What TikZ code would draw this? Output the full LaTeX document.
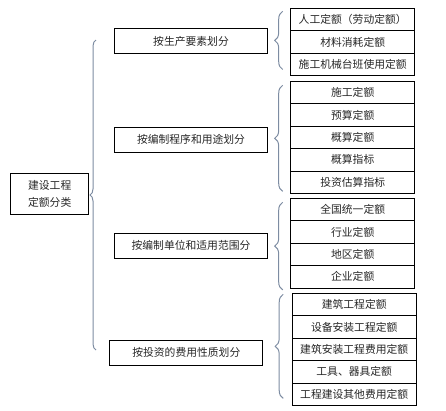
\documentclass[tikz,border=0pt]{standalone}
\usepackage{fontspec}
\newfontfamily\cjk{Noto Sans CJK SC}
\usepackage{tikz}
\usetikzlibrary{positioning,decorations.pathreplacing}

\definecolor{bracegray}{RGB}{125,140,162}

\tikzset{
    rootbox/.style={draw, line width=0.8pt, minimum width=78pt, minimum height=41pt,
        inner sep=0pt, outer sep=0pt, align=center, text=black!85,
        font=\cjk\fontsize{10.8}{16.5}\selectfont},
    catbox/.style={draw, line width=0.8pt, minimum width=153pt, minimum height=25pt,
        inner sep=0pt, outer sep=0pt, text=black!85, font=\cjk\fontsize{10.8}{13}\selectfont},
    itembox/.style={draw, line width=0.8pt, minimum width=124pt, minimum height=22.4pt,
        inner sep=0pt, outer sep=0pt, text=black!85, font=\cjk\fontsize{10.8}{13}\selectfont},
    bracket/.style={draw=bracegray, line width=1pt, decorate,
        decoration={brace, amplitude=#1}},
    bracket/.default=8pt
}

\begin{document}
\begin{tikzpicture}[x=1pt, y=-1pt]
    \useasboundingbox (0,0) rectangle (446,410);

    \node[rootbox] (root) at (49.7,193.8) {建设工程\\定额分类};

    \node[catbox] (c1) at (191,41.3) {按生产要素划分};
    \node[catbox] (c2) at (191,139.7) {按编制程序和用途划分};
    \node[catbox] (c3) at (191,245.8) {按编制单位和适用范围分};
    \node[catbox] (c4) at (186.3,352.8) {按投资的费用性质划分};

    \node[itembox] (a1) at (352.7,19.5) {人工定额（劳动定额）};
    \node[itembox, below=0pt of a1] (a2) {材料消耗定额};
    \node[itembox, below=0pt of a2] (a3) {施工机械台班使用定额};

    \node[itembox, below=5.8pt of a3] (b1) {施工定额};
    \node[itembox, below=0pt of b1] (b2) {预算定额};
    \node[itembox, below=0pt of b2] (b3) {概算定额};
    \node[itembox, below=0pt of b3] (b4) {概算指标};
    \node[itembox, below=0pt of b4] (b5) {投资估算指标};

    \node[itembox, below=5pt of b5] (d1) {全国统一定额};
    \node[itembox, below=0pt of d1] (d2) {行业定额};
    \node[itembox, below=0pt of d2] (d3) {地区定额};
    \node[itembox, below=0pt of d3] (d4) {企业定额};

    \node[itembox, below=5.4pt of d4, xshift=1.5pt] (e1) {建筑工程定额};
    \node[itembox, below=0pt of e1] (e2) {设备安装工程定额};
    \node[itembox, below=0pt of e2] (e3) {建筑安装工程费用定额};
    \node[itembox, below=0pt of e3] (e4) {工具、器具定额};
    \node[itembox, below=0pt of e4] (e5) {工程建设其他费用定额};

    \coordinate (top) at (96,40);
    \coordinate (bot) at (96,350);
    \draw[bracket=6pt] (bot) -- (top);

    \draw[bracket] ([xshift=-8pt, yshift=6pt]a3.south west) -- ([xshift=-8pt, yshift=-3pt]a1.north west);
    \draw[bracket] ([xshift=-8pt, yshift=2pt]b5.south west) -- ([xshift=-8pt, yshift=-4pt]b1.north west);
    \draw[bracket] ([xshift=-8pt, yshift=-2pt]d4.south west) -- ([xshift=-8pt, yshift=-4pt]d1.north west);
    \draw[bracket] ([xshift=-9pt, yshift=7pt]e5.south west) -- ([xshift=-9pt, yshift=-1pt]e1.north west);
\end{tikzpicture}
\end{document}
